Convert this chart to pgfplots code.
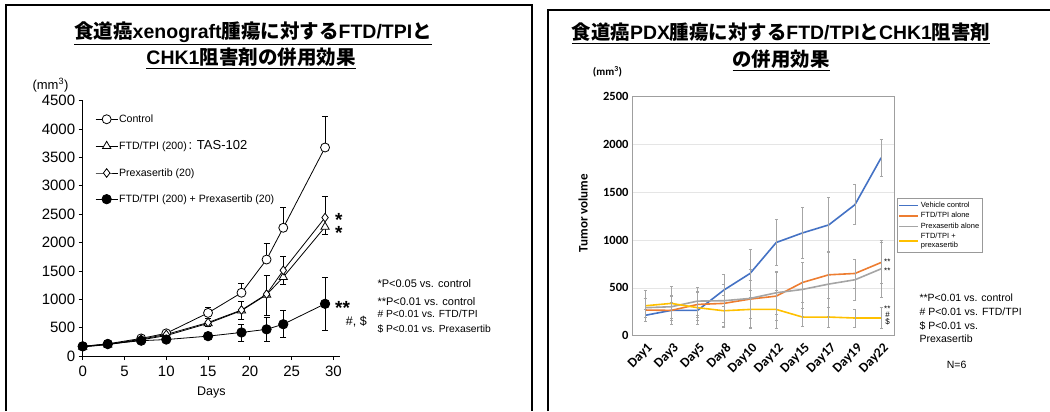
\documentclass[border=0pt]{standalone}
\usepackage{pgfplots}
\pgfplotsset{compat=1.18}
\usepackage{fontspec}
\setmainfont{Liberation Sans}
\newfontfamily\cjk{Noto Sans CJK JP}
\newfontfamily\carlito{Carlito}
\newcommand\fs[2]{\fontsize{#1bp}{#2bp}\selectfont}
\definecolor{xblue}{HTML}{4472C4}
\definecolor{xorange}{HTML}{ED7D31}
\definecolor{xgray}{HTML}{A5A5A5}
\definecolor{xyellow}{HTML}{FFC000}

\pgfplotstableread{
d v e
0 170 15
3 215 20
7 310 30
10 400 40
15 760 100
19 1115 170
22 1700 290
24 2260 360
29 3675 550
}\ctrl
\pgfplotstableread{
d v e
0 160 10
3 200 15
7 285 25
10 360 35
15 575 50
19 800 160
22 1080 360
24 1390 120
29 2275 140
}\ftd
\pgfplotstableread{
d v e
0 165 10
3 205 15
7 295 25
10 380 35
15 590 70
19 810 150
22 1090 330
24 1510 240
29 2440 380
}\prex
\pgfplotstableread{
d v e
0 170 20
3 210 25
7 270 40
10 290 45
15 350 60
19 415 150
22 470 210
24 560 240
29 920 460
}\combo

\pgfplotstableread{
i v e
0 213 60
1 265 80
2 265 100
3 477 170
4 651 250
5 975 240
6 1075 265
7 1159 290
8 1371 210
9 1862 190
}\rveh
\pgfplotstableread{
i v e
0 268 120
1 265 150
2 327 130
3 338 200
4 383 200
5 414 250
6 557 210
7 637 250
8 651 150
9 766 215
}\rftd
\pgfplotstableread{
i v e
0 293 100
1 303 120
2 362 150
3 366 280
4 390 300
5 449 220
6 484 280
7 540 340
8 585 210
9 700 300
}\rprex
\pgfplotstableread{
i v e
0 313 160
1 338 180
2 293 170
3 261 160
4 275 200
5 275 200
6 195 95
7 195 105
8 185 95
9 185 110
}\rcombo

\begin{document}
\begin{tikzpicture}[x=1bp,y=1bp]
\path[use as bounding box] (0,0) rectangle (1050,411);
% panel frames
\draw[line width=1.5bp] (6,0) -- (6,406) -- (532,406) -- (532,0);
\draw[line width=1.5bp] (548,0) -- (548,401) -- (1050,401);

% titles
\node[font=\bfseries\fs{19.5}{23}] at (253,378) {\underline{{\cjk 食道癌}xenograft{\cjk 腫瘍に対する}FTD/TPI{\cjk と}}};
\node[font=\bfseries\fs{19.5}{23}] at (251,353) {\underline{CHK1{\cjk 阻害剤の併用効果}}};
\node[font=\bfseries\fs{19.4}{23}] at (781,378) {\underline{{\cjk 食道癌}PDX{\cjk 腫瘍に対する}FTD/TPI{\cjk と}CHK1{\cjk 阻害剤}}};
\node[font=\bfseries\fs{19.4}{23}] at (781,351) {\underline{{\cjk の併用効果}}};

\node[font=\fs{13}{15}] at (50.5,326) {(mm\textsuperscript{3})};
\node[font=\carlito\bfseries\fs{11}{12}] at (607.5,339.3) {(mm\textsuperscript{3})};

% ---------------- left chart ----------------
\begin{axis}[at={(82.7bp,55bp)}, anchor=south west, scale only axis,
  width=257.4bp, height=255.3bp,
  xmin=0, xmax=30.8, ymin=0, ymax=4500,
  axis lines*=left,
  xtick={0,5,...,30}, ytick={0,500,...,4500},
  tick align=outside, major tick length=4bp,
  tick style={black, line width=0.8bp},
  axis line style={line width=1bp},
  ticklabel style={font=\fs{15}{15}},
  xticklabel style={yshift=-3bp},
  /pgf/number format/assume math mode=true,
  /pgf/number format/set thousands separator={},
  xlabel={Days},
  xlabel style={font=\fs{12.5}{14}, at={(axis description cs:0.5,-0.143)}, anchor=center},
  clip=false,
  legend style={at={(axis description cs:0.048,0.95)}, anchor=north west,
    draw=none, fill=none, font=\fs{10.6}{12}, inner sep=0pt, row sep=15bp,
    cells={anchor=west}, nodes={inner sep=1bp}},
  legend image code/.code={\draw[mark repeat=2,mark phase=2] plot coordinates {(0bp,0bp)(11bp,0bp)(22bp,0bp)};},
]
\addplot[black, line width=0.8bp, mark=*, mark size=4.5bp, mark options={fill=white, line width=0.8bp},
  error bars/.cd, y dir=plus, y explicit, error bar style={line width=0.8bp},
  error mark options={rotate=90, mark size=3bp, line width=0.8bp}]
  table[x=d, y=v, y error=e] {\ctrl};
\addlegendentry{Control}
\addplot[black, line width=0.8bp, mark=triangle*, mark size=4.8bp, mark options={fill=white, line width=0.8bp},
  error bars/.cd, y dir=minus, y explicit, error bar style={line width=0.8bp},
  error mark options={rotate=90, mark size=3bp, line width=0.8bp}]
  table[x=d, y=v, y error=e] {\ftd};
\addlegendentry{FTD/TPI (200)\,{\fs{13}{14}: TAS-102}}
\addplot[black, line width=0.8bp, mark=diamond*, mark size=4.3bp, mark options={fill=white, line width=0.8bp},
  error bars/.cd, y dir=plus, y explicit, error bar style={line width=0.8bp},
  error mark options={rotate=90, mark size=3bp, line width=0.8bp}]
  table[x=d, y=v, y error=e] {\prex};
\addlegendentry{Prexasertib (20)}
\addplot[black, line width=0.8bp, mark=*, mark size=4.7bp, mark options={fill=black},
  error bars/.cd, y dir=both, y explicit, error bar style={line width=0.8bp},
  error mark options={rotate=90, mark size=3bp, line width=0.8bp}]
  table[x=d, y=v, y error=e] {\combo};
\addlegendentry{FTD/TPI (200) + Prexasertib (20)}
\end{axis}

% left annotations
\node[anchor=base west, inner sep=0pt, font=\bfseries\fs{19}{19}] at (335,184.5) {*};
\node[anchor=base west, inner sep=0pt, font=\bfseries\fs{19}{19}] at (335,171.9) {*};
\node[anchor=base west, inner sep=0pt, font=\bfseries\fs{19}{19}] at (335,96.2) {**};
\node[anchor=west, inner sep=0pt, font=\fs{12.5}{14}] at (345.7,89.3) {\#, \$};
\node[anchor=base west, inner sep=0pt, font=\fs{11}{12}] at (377.3,123.7) {*P<0.05 vs. control};
\node[anchor=base west, inner sep=0pt, font=\fs{11}{12}] at (377.3,106) {**P<0.01 vs. control};
\node[anchor=base west, inner sep=0pt, font=\fs{10.3}{12}] at (377.3,93.7) {\# P<0.01 vs. FTD/TPI};
\node[anchor=base west, inner sep=0pt, font=\fs{10.3}{12}] at (377.3,78.7) {\$ P<0.01 vs. Prexasertib};

% ---------------- right chart ----------------
\begin{axis}[at={(632bp,75.3bp)}, anchor=south west, scale only axis,
  width=262.3bp, height=239bp,
  xmin=-0.5, xmax=9.5, ymin=0, ymax=2500,
  xtick={0,...,9},
  xticklabels={Day1,Day3,Day5,Day8,Day10,Day12,Day15,Day17,Day19,Day22},
  ytick={0,500,...,2500},
  ymajorgrids, grid style={gray!20, line width=0.8bp},
  axis line style={gray!75, line width=0.8bp},
  major tick length=0pt, tick style={draw=none},
  ticklabel style={font=\carlito\bfseries\fs{12.5}{14}},
  xticklabel style={font=\carlito\bfseries\fs{13.5}{14}, rotate=45, anchor=north east, yshift=-2bp},
  /pgf/number format/assume math mode=true,
  /pgf/number format/set thousands separator={},
  ylabel={Tumor volume},
  ylabel style={font=\carlito\bfseries\fs{13}{15}, at={(axis description cs:-0.186,0.513)}, anchor=center},
  clip=false,
  legend style={at={(axis description cs:1.009,0.575)}, anchor=north west,
    draw=gray!80, line width=0.6bp, font=\fs{7.5}{8.5}, inner sep=1.5bp, row sep=0bp,
    cells={anchor=west, align=left}, nodes={inner sep=1.8bp}},
  legend image code/.code={\draw (0bp,0bp) -- (19bp,0bp);},
]
\addplot[xblue, line width=1.6bp, no markers,
  error bars/.cd, y dir=both, y explicit, error bar style={gray!70, line width=0.5bp},
  error mark options={rotate=90, mark size=1.5bp, gray!70, line width=0.5bp}]
  table[x=i, y=v, y error=e] {\rveh};
\addlegendentry{Vehicle control}
\addplot[xorange, line width=1.6bp, no markers,
  error bars/.cd, y dir=both, y explicit, error bar style={gray!70, line width=0.5bp},
  error mark options={rotate=90, mark size=1.5bp, gray!70, line width=0.5bp}]
  table[x=i, y=v, y error=e] {\rftd};
\addlegendentry{FTD/TPI alone}
\addplot[xgray, line width=1.6bp, no markers,
  error bars/.cd, y dir=both, y explicit, error bar style={gray!70, line width=0.5bp},
  error mark options={rotate=90, mark size=1.5bp, gray!70, line width=0.5bp}]
  table[x=i, y=v, y error=e] {\rprex};
\addlegendentry{Prexasertib alone}
\addplot[xyellow, line width=1.6bp, no markers,
  error bars/.cd, y dir=both, y explicit, error bar style={gray!70, line width=0.5bp},
  error mark options={rotate=90, mark size=1.5bp, gray!70, line width=0.5bp}]
  table[x=i, y=v, y error=e] {\rcombo};
\addlegendentry{FTD/TPI +\\prexasertib}
\end{axis}

% right annotations
\node[anchor=base west, inner sep=0pt, font=\fs{8}{9}] at (884,146.4) {**};
\node[anchor=base west, inner sep=0pt, font=\fs{8}{9}] at (884,137.1) {**};
\node[anchor=base west, inner sep=0pt, font=\fs{8}{9}] at (884,99.7) {**};
\node[anchor=base, inner sep=0pt, font=\fs{8}{9}] at (887.7,94) {\#};
\node[anchor=base, inner sep=0pt, font=\fs{8}{9}] at (887.7,86.3) {\$};
\node[anchor=base west, inner sep=0pt, font=\fs{10.5}{12}] at (919.3,109.9) {**P<0.01 vs. control};
\node[anchor=base west, inner sep=0pt, font=\fs{10.5}{12}] at (919.3,95.5) {\# P<0.01 vs. FTD/TPI};
\node[anchor=base west, inner sep=0pt, font=\fs{10.5}{12}] at (919.3,81.5) {\$ P<0.01 vs.};
\node[anchor=base west, inner sep=0pt, font=\fs{10.5}{12}] at (919.3,68.9) {Prexasertib};
\node[anchor=base west, inner sep=0pt, font=\fs{10.5}{12}] at (946.7,42.9) {N=6};
\end{tikzpicture}
\end{document}
